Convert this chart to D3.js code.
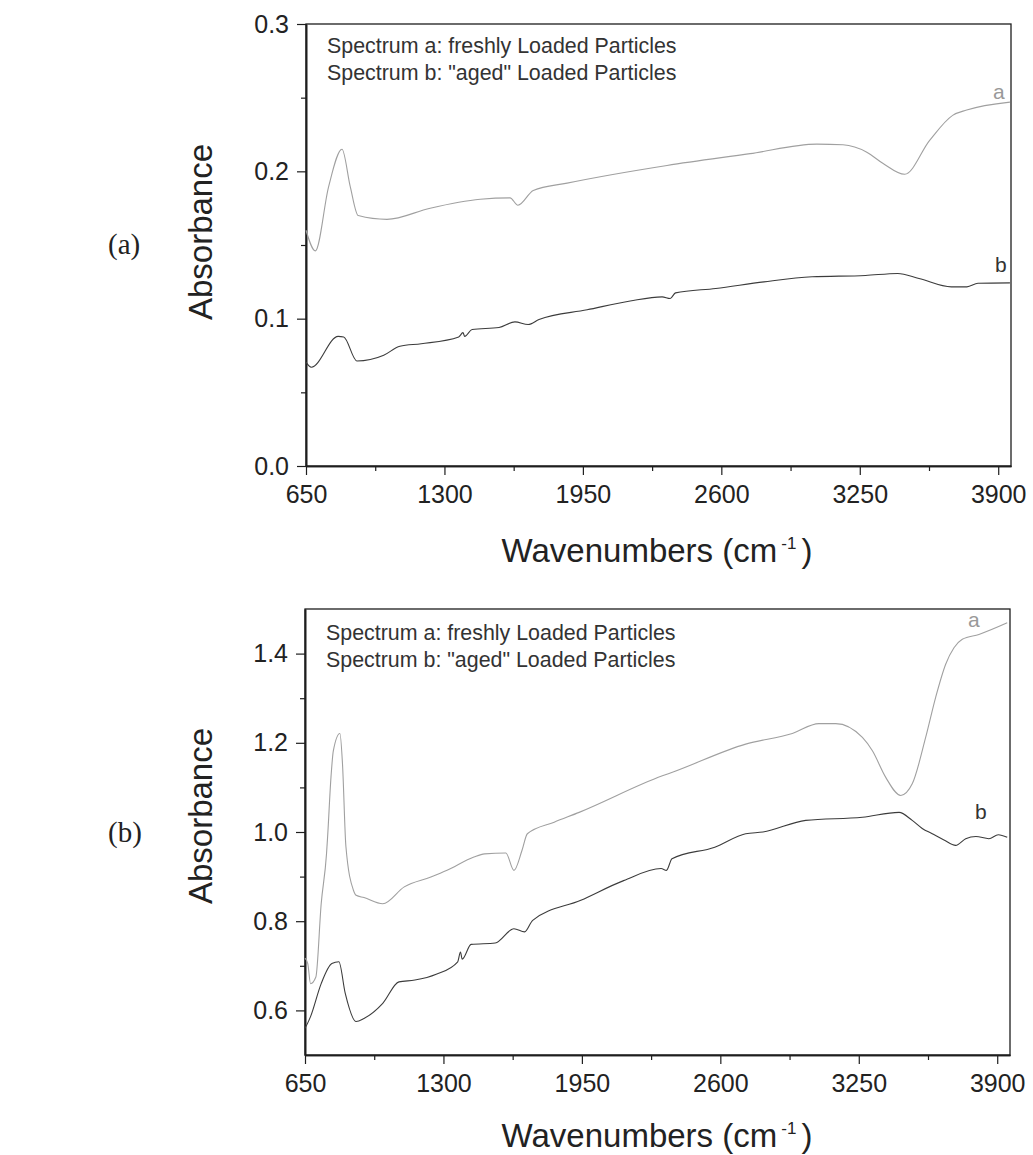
<!DOCTYPE html>
<html>
<head>
<meta charset="utf-8">
<script src="https://cdn.jsdelivr.net/npm/d3@7"></script>
<style>
  body { margin: 0; background: #fff; }
  svg { display: block; }
  text { font-family: "Liberation Sans", Arial, sans-serif; }
</style>
</head>
<body>
<div id="chart"></div>
<script>
//~~~~~~~~~~~~~~~~~~DATA
let xMajorTicks = [650, 1300, 1950, 2600, 3250, 3900];
let xMinorTicks = [975, 1625, 2275, 2925, 3575];

let topYMajor = [0.0, 0.1, 0.2, 0.3];
let topYMinor = [0.05, 0.15, 0.25];
let botYMajor = [0.6, 0.8, 1.0, 1.2, 1.4];
let botYMinor = [0.7, 0.9, 1.1, 1.3];

let legendLines = ['Spectrum a: freshly Loaded Particles', 'Spectrum b: "aged" Loaded Particles'];
let panelNames = ['(a)', '(b)'];

// panel (a), spectrum a
let topWaveA = [650, 694, 756, 819, 858, 895, 1030, 1233, 1468, 1608, 1645, 1717, 1876, 2345, 2735, 3049, 3171, 3283, 3358, 3461, 3578, 3686, 3752, 3955];
let topAbsA  = [0.160, 0.146, 0.1895, 0.215, 0.1895, 0.170, 0.1674, 0.175, 0.181, 0.182, 0.177, 0.187, 0.192, 0.204, 0.212, 0.2185, 0.218, 0.213, 0.2055, 0.198, 0.221, 0.238, 0.2416, 0.247];

// panel (a), spectrum b
let topWaveB = [650, 675, 801, 827, 889, 1015, 1091, 1191, 1367, 1387, 1395, 1430, 1556, 1631, 1693, 1744, 1970, 2172, 2322, 2360, 2385, 2574, 2800, 3026, 3277, 3428, 3528, 3680, 3753, 3805, 3955];
let topAbsB  = [0.0705, 0.067, 0.088, 0.0876, 0.0713, 0.0752, 0.0813, 0.083, 0.0876, 0.0905, 0.088, 0.0926, 0.094, 0.0978, 0.096, 0.0994, 0.106, 0.112, 0.1148, 0.1137, 0.1175, 0.1205, 0.125, 0.1284, 0.1293, 0.1307, 0.1273, 0.1216, 0.1216, 0.124, 0.1243];

// panel (b), spectrum a
let botWaveA = [650, 663, 676, 701, 726, 751, 756, 772, 783, 814, 826, 842, 877, 890, 927, 1015, 1116, 1241, 1317, 1443, 1493, 1593, 1631, 1669, 1694, 1820, 1937, 2328, 2375, 2719, 2938, 3063, 3142, 3267, 3314, 3376, 3447, 3501, 3564, 3611, 3658, 3697, 3736, 3814, 3947];
let botAbsA  = [0.717, 0.705, 0.660, 0.675, 0.839, 0.951, 0.988, 1.123, 1.182, 1.221, 1.153, 0.968, 0.870, 0.858, 0.853, 0.839, 0.877, 0.899, 0.914, 0.944, 0.951, 0.953, 0.914, 0.959, 0.996, 1.022, 1.044, 1.126, 1.134, 1.197, 1.221, 1.243, 1.243, 1.212, 1.182, 1.123, 1.082, 1.108, 1.212, 1.302, 1.376, 1.413, 1.432, 1.443, 1.469];

// panel (b), spectrum b
let botWaveB = [650, 663, 676, 726, 776, 809, 839, 890, 927, 1015, 1091, 1166, 1266, 1367, 1380, 1388, 1430, 1543, 1631, 1681, 1719, 1945, 2146, 2322, 2347, 2373, 2574, 2719, 2800, 3001, 3267, 3439, 3501, 3548, 3595, 3650, 3705, 3752, 3800, 3861, 3905, 3947];
let botAbsB  = [0.560, 0.572, 0.586, 0.660, 0.705, 0.709, 0.638, 0.575, 0.582, 0.616, 0.664, 0.668, 0.681, 0.709, 0.731, 0.715, 0.748, 0.751, 0.783, 0.776, 0.802, 0.847, 0.891, 0.918, 0.914, 0.940, 0.966, 0.996, 1.000, 1.026, 1.033, 1.044, 1.026, 1.008, 0.996, 0.982, 0.970, 0.985, 0.990, 0.985, 0.994, 0.988];

//~~~~~~~~~~~~~~~~~~SVG
let width = 1033;
let height = 1155;
let colorA = '#a0a0a0';
let colorB = '#3c3c3c';
let axisColor = '#1e1e1e';

let svg = d3.select('#chart')
  .append('svg')
  .attr('width', width)
  .attr('height', height);

//turn two parallel arrays into point objects
function zipPoints(waves, abs) {
  return waves.map(function(w, i) { return { w: w, a: abs[i] }; });
}

//draws one panel of the figure
function drawPanel(p) {
  let x = d3.scaleLinear().domain([650, 3960]).range([p.left, p.right]);
  let y = d3.scaleLinear().domain(p.yDomain).range([p.bottom, p.top]);

  let g = svg.append('g');

  //frame (top and right edges)
  g.append('rect')
    .attr('x', p.left)
    .attr('y', p.top)
    .attr('width', p.right - p.left)
    .attr('height', p.bottom - p.top)
    .attr('fill', 'none')
    .attr('stroke', axisColor)
    .attr('stroke-width', 1.3);

  //x axis, major and minor ticks
  g.append('g')
    .attr('transform', 'translate(0,' + p.bottom + ')')
    .call(d3.axisBottom(x).tickValues(xMajorTicks).tickSizeInner(9).tickSizeOuter(0).tickPadding(10)
      .tickFormat(d3.format('d')));
  g.append('g')
    .attr('transform', 'translate(0,' + p.bottom + ')')
    .call(d3.axisBottom(x).tickValues(xMinorTicks).tickSizeInner(5).tickSizeOuter(0).tickFormat(''));

  //y axis, major and minor ticks
  g.append('g')
    .attr('transform', 'translate(' + p.left + ',0)')
    .call(d3.axisLeft(y).tickValues(p.yMajor).tickSizeInner(9).tickSizeOuter(0).tickPadding(8)
      .tickFormat(d3.format('.1f')));
  g.append('g')
    .attr('transform', 'translate(' + p.left + ',0)')
    .call(d3.axisLeft(y).tickValues(p.yMinor).tickSizeInner(5).tickSizeOuter(0).tickFormat(''));

  g.selectAll('.domain').attr('stroke', axisColor).attr('stroke-width', 1.6);
  g.selectAll('.tick line').attr('stroke', axisColor).attr('stroke-width', 1.2);
  g.selectAll('.tick text')
    .attr('fill', '#222')
    .style('font-size', '25px')
    .style('font-family', '"Liberation Sans", Arial, sans-serif');

  //the two spectra
  let line = d3.line()
    .curve(d3.curveMonotoneX)
    .x(function(d) { return x(d.w); })
    .y(function(d) { return y(d.a); });

  g.append('path')
    .datum(p.seriesA)
    .attr('d', line)
    .attr('fill', 'none')
    .attr('stroke', colorA)
    .attr('stroke-width', 1.1);

  g.append('path')
    .datum(p.seriesB)
    .attr('d', line)
    .attr('fill', 'none')
    .attr('stroke', colorB)
    .attr('stroke-width', 1.1);

  //curve letters at the right end
  g.append('text')
    .attr('x', p.labelA[0]).attr('y', p.labelA[1])
    .attr('fill', '#999')
    .style('font-size', '21px')
    .text('a');
  g.append('text')
    .attr('x', p.labelB[0]).attr('y', p.labelB[1])
    .attr('fill', '#333')
    .style('font-size', '21px')
    .text('b');

  //legend text in the top left corner
  g.selectAll('.legend')
    .data(legendLines)
    .enter()
    .append('text')
    .attr('class', 'legend')
    .attr('x', p.left + 21)
    .attr('y', function(d, i) { return p.legendY + i * 27; })
    .attr('fill', '#333')
    .style('font-size', '21.4px')
    .text(function(d) { return d; });

  //axis titles
  g.append('text')
    .attr('transform', 'translate(' + p.yTitle[0] + ',' + p.yTitle[1] + ') rotate(-90)')
    .attr('text-anchor', 'middle')
    .attr('fill', '#222')
    .style('font-size', '33px')
    .text('Absorbance');

  let xt = g.append('text')
    .attr('x', 657)
    .attr('y', p.xTitleY)
    .attr('text-anchor', 'middle')
    .attr('fill', '#222')
    .style('font-size', '33px');
  xt.append('tspan').text('Wavenumbers (cm');
  xt.append('tspan').attr('dy', -13).attr('dx', 4).style('font-size', '17px').text('-1');
  xt.append('tspan').attr('dy', 13).attr('dx', 5).text(')');

  //panel name on the far left
  g.append('text')
    .attr('x', 108)
    .attr('y', p.nameY)
    .attr('fill', '#222')
    .style('font-family', '"Liberation Serif", "Times New Roman", serif')
    .style('font-size', '29px')
    .text(p.name);
}

drawPanel({
  left: 306, right: 1011, top: 24, bottom: 466,
  yDomain: [0, 0.3], yMajor: topYMajor, yMinor: topYMinor,
  seriesA: zipPoints(topWaveA, topAbsA),
  seriesB: zipPoints(topWaveB, topAbsB),
  labelA: [993, 99], labelB: [995, 272],
  legendY: 53, yTitle: [212, 232], xTitleY: 562,
  name: panelNames[0], nameY: 254
});

drawPanel({
  left: 305, right: 1010, top: 609, bottom: 1055,
  yDomain: [0.5, 1.5], yMajor: botYMajor, yMinor: botYMinor,
  seriesA: zipPoints(botWaveA, botAbsA),
  seriesB: zipPoints(botWaveB, botAbsB),
  labelA: [968, 627], labelB: [975, 819],
  legendY: 640, yTitle: [212, 816], xTitleY: 1147,
  name: panelNames[1], nameY: 842
});
</script>
</body>
</html>
